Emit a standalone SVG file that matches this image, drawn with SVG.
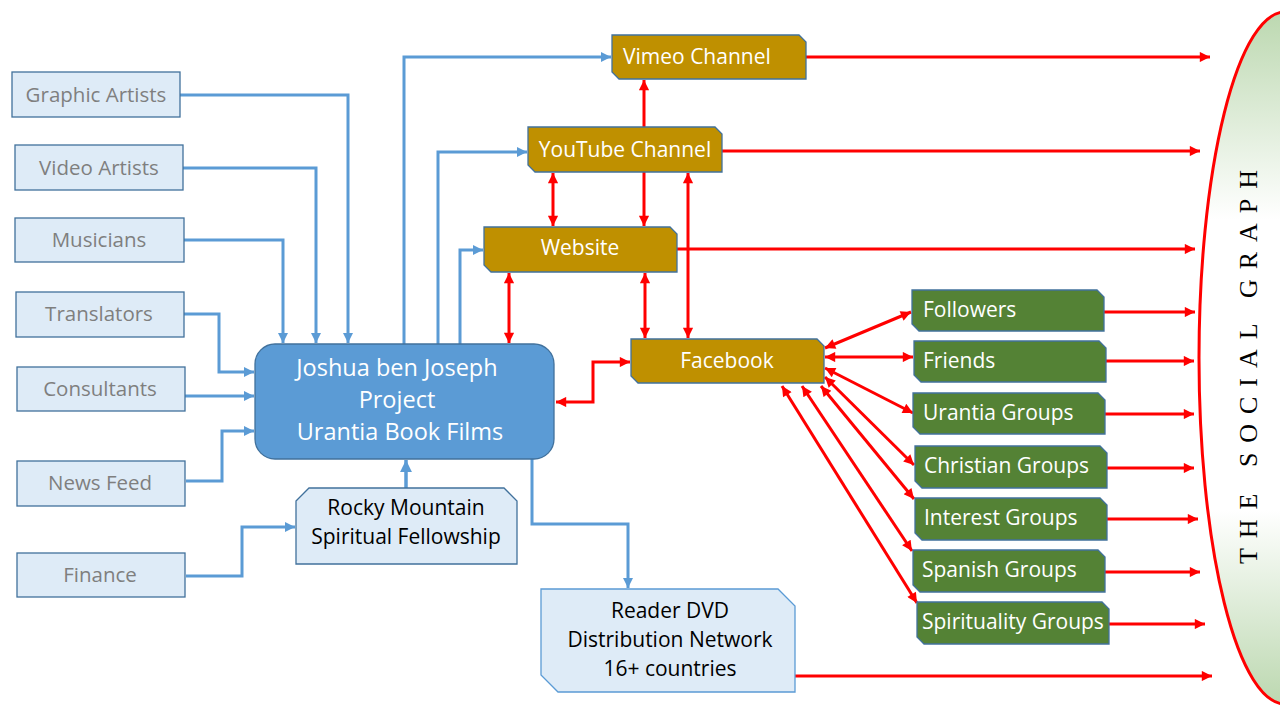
<svg xmlns="http://www.w3.org/2000/svg" width="1280" height="720" viewBox="0 0 1280 720">
<defs>
<marker id="ab" viewBox="0 0 10 10" refX="10" refY="5" markerWidth="3.4" markerHeight="3.4" orient="auto-start-reverse" markerUnits="strokeWidth"><path d="M0,0 L10,5 L0,10 Z" fill="#5B9BD5"/></marker>
<marker id="ar" viewBox="0 0 10 10" refX="10" refY="5" markerWidth="4" markerHeight="3.4" orient="auto-start-reverse" markerUnits="strokeWidth"><path d="M0,0 L10,5 L0,10 Z" fill="#FF0000"/></marker>
<linearGradient id="eg" x1="0" y1="0" x2="0" y2="1">
<stop offset="0" stop-color="#BCD8B0"/>
<stop offset="0.3" stop-color="#FFFFFF"/>
<stop offset="0.72" stop-color="#FFFFFF"/>
<stop offset="1" stop-color="#BCD8B0"/>
</linearGradient>
<style>
.lt{fill:#DEEBF7;stroke:#41719C;stroke-width:1.3}
.lt-t{font-family:"Open Sans","Liberation Sans",sans-serif;font-size:20.5px;fill:#7F7F7F;text-anchor:middle}
.dk-t{font-family:"Open Sans","Liberation Sans",sans-serif;font-size:21px;fill:#000;text-anchor:middle}
.gd{fill:#BF9000;stroke:#41719C;stroke-width:1.3}
.gr{fill:#548235;stroke:#41719C;stroke-width:1.3}
.wt{font-family:"Open Sans","Liberation Sans",sans-serif;font-size:21px;fill:#FFFFFF}
.bl{fill:none;stroke:#5B9BD5;stroke-width:3;marker-end:url(#ab)}
.rd{fill:none;stroke:#FF0000;stroke-width:3;marker-end:url(#ar)}
.rd2{fill:none;stroke:#FF0000;stroke-width:3;marker-end:url(#ar);marker-start:url(#ar)}
</style>
</defs>
<rect width="1280" height="720" fill="#FFFFFF"/>

<g id="social-graph">
<ellipse cx="1285" cy="358" rx="86" ry="346" fill="url(#eg)" stroke="#FF0000" stroke-width="3"/>
<text transform="translate(1257,367) rotate(-90)" x="0" y="0" text-anchor="middle" textLength="394" lengthAdjust="spacing" font-family="'Liberation Serif',serif" font-size="26" fill="#000">THE SOCIAL GRAPH</text>
</g>

<g id="connectors">
<path class="bl" d="M180,95 H348 V343"/>
<path class="bl" d="M183,168 H316 V343"/>
<path class="bl" d="M184,240 H283 V343"/>
<path class="bl" d="M184,314 H219 V372 H254"/>
<path class="bl" d="M185,396 H254"/>
<path class="bl" d="M186,481 H222 V431 H254"/>
<path class="bl" d="M186,576 H242 V527 H295"/>
<path class="bl" d="M406,488 V460" style="stroke-width:3.5"/>
<path class="bl" d="M404,344 V57 H611"/>
<path class="bl" d="M438,344 V152 H527"/>
<path class="bl" d="M460,344 V250 H483"/>
<path class="bl" d="M532,459 V524 H628 V588"/>

<path class="rd" d="M644,127 V80"/>
<path class="rd2" d="M553,173 V226"/>
<path class="rd" d="M644,172 V226"/>
<path class="rd2" d="M688,173 V338"/>
<path class="rd2" d="M509,273 V343"/>
<path class="rd2" d="M645,273 V338"/>
<path class="rd2" d="M556,402 H593 V362 H630"/>

<path class="rd2" d="M825,348 L911,312"/>
<path class="rd2" d="M825,357 L913,357"/>
<path class="rd2" d="M825,368 L913,413"/>
<path class="rd2" d="M825,377 L914,465"/>
<path class="rd2" d="M821,386 L914,499"/>
<path class="rd2" d="M802,386 L912,551"/>
<path class="rd2" d="M782,386 L917,603"/>

<path class="rd" d="M806,57 H1210"/>
<path class="rd" d="M722,151 H1200"/>
<path class="rd" d="M677,249 H1195"/>
<path class="rd" d="M1104,312 H1195"/>
<path class="rd" d="M1106,361 H1194"/>
<path class="rd" d="M1105,414 H1194"/>
<path class="rd" d="M1107,468 H1194"/>
<path class="rd" d="M1107,519 H1198"/>
<path class="rd" d="M1105,572 H1200"/>
<path class="rd" d="M1109,624 H1205"/>
<path class="rd" d="M795,676 H1212"/>
</g>

<g id="graphic-artists"><rect class="lt" x="12" y="72" width="168" height="45"/><text class="lt-t" x="96" y="102">Graphic Artists</text></g>
<g id="video-artists"><rect class="lt" x="15" y="145" width="168" height="45"/><text class="lt-t" x="99" y="175">Video Artists</text></g>
<g id="musicians"><rect class="lt" x="15" y="218" width="169" height="44"/><text class="lt-t" x="99" y="247">Musicians</text></g>
<g id="translators"><rect class="lt" x="16" y="292" width="168" height="45"/><text class="lt-t" x="99" y="321">Translators</text></g>
<g id="consultants"><rect class="lt" x="17" y="367" width="168" height="44"/><text class="lt-t" x="100" y="396">Consultants</text></g>
<g id="news-feed"><rect class="lt" x="17" y="461" width="168" height="45"/><text class="lt-t" x="100" y="490">News Feed</text></g>
<g id="finance"><rect class="lt" x="17" y="553" width="168" height="44"/><text class="lt-t" x="100" y="582">Finance</text></g>

<g id="main">
<rect x="255" y="344" width="299" height="115" rx="20" fill="#5B9BD5" stroke="#41719C" stroke-width="1.3"/>
<text font-family="'Open Sans','Liberation Sans',sans-serif" font-size="23.5" fill="#FFFFFF" text-anchor="middle">
<tspan x="400" y="376">Joshua ben Joseph</tspan>
<tspan x="400" y="408">Project</tspan>
<tspan x="400" y="440">Urantia  Book Films</tspan>
</text>
</g>

<g id="rocky-mountain">
<path class="lt" d="M296,501 L309,488 H504 L517,501 V564 H296 Z"/>
<text class="dk-t"><tspan x="406" y="515">Rocky Mountain</tspan><tspan x="406" y="544">Spiritual Fellowship</tspan></text>
</g>

<g id="reader-dvd">
<path d="M541,589 H778 L795,606 V692 H558 L541,675 Z" fill="#DEEBF7" stroke="#5B9BD5" stroke-width="1.3"/>
<text class="dk-t"><tspan x="670" y="618">Reader DVD</tspan><tspan x="670" y="647">Distribution Network</tspan><tspan x="670" y="676">16+ countries</tspan></text>
</g>

<g id="vimeo"><path class="gd" d="M612,35 H799 L806,42 V79 H619 L612,72 Z"/><text class="wt" x="623" y="64">Vimeo Channel</text></g>
<g id="youtube"><path class="gd" d="M528,127 H715 L722,134 V172 H535 L528,165 Z"/><text class="wt" x="625" y="157" text-anchor="middle">YouTube Channel</text></g>
<g id="website"><path class="gd" d="M484,227 H670 L677,234 V272 H491 L484,265 Z"/><text class="wt" x="580" y="255" text-anchor="middle">Website</text></g>
<g id="facebook"><path class="gd" d="M631,339 H817 L824,346 V383 H638 L631,376 Z"/><text class="wt" x="727" y="368" text-anchor="middle">Facebook</text></g>

<g id="followers"><path class="gr" d="M912,290 H1097 L1104,297 V331 H919 L912,324 Z"/><text class="wt" x="923" y="317">Followers</text></g>
<g id="friends"><path class="gr" d="M914,341 H1099 L1106,348 V382 H921 L914,375 Z"/><text class="wt" x="923" y="368">Friends</text></g>
<g id="urantia-groups"><path class="gr" d="M913,393 H1098 L1105,400 V434 H920 L913,427 Z"/><text class="wt" x="923" y="420">Urantia Groups</text></g>
<g id="christian-groups"><path class="gr" d="M915,446 H1100 L1107,453 V488 H922 L915,481 Z"/><text class="wt" x="924" y="473">Christian Groups</text></g>
<g id="interest-groups"><path class="gr" d="M915,498 H1100 L1107,505 V540 H922 L915,533 Z"/><text class="wt" x="924" y="525">Interest Groups</text></g>
<g id="spanish-groups"><path class="gr" d="M913,550 H1098 L1105,557 V592 H920 L913,585 Z"/><text class="wt" x="922" y="577">Spanish Groups</text></g>
<g id="spirituality-groups"><path class="gr" d="M917,602 H1102 L1109,609 V644 H924 L917,637 Z"/><text class="wt" x="922" y="629">Spirituality Groups</text></g>
</svg>
